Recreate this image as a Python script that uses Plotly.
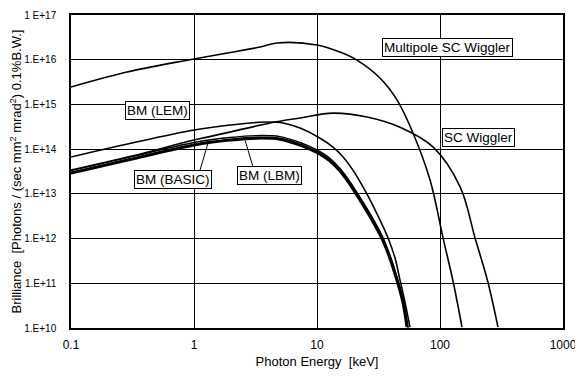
import plotly.graph_objects as go

# Photon energy [keV] and brilliance values
multipole_E = [0.1, 0.285, 1.0, 3.44, 4.73, 10.0, 15.4, 21.1, 32.5, 44.7, 60.3, 83, 106, 128, 151]
multipole_B = [2.45e15, 5.3e15, 1.04e16, 1.92e16, 2.37e16, 2.14e16, 1.48e16, 9.8e15, 3.9e15,
               1.26e15, 2.3e14, 2.04e13, 1.02e12, 1.07e11, 1.05e10]

scw_E = [0.1, 0.313, 1.0, 1.96, 4.15, 7.28, 13.5, 25.5, 47.3, 87.7, 146, 193, 245, 296]
scw_B = [3.4e13, 7.0e13, 1.6e14, 2.4e14, 3.84e14, 4.97e14, 6.4e14, 5.25e14, 3.1e14,
         1.12e14, 1.42e13, 1.02e12, 1.07e11, 1.05e10]

lem_E = [0.1, 0.313, 1.0, 1.96, 3.78, 5.3, 7.28, 10.2, 13.5, 16.3, 19.6, 23.2, 27, 32.5,
         37.8, 43.1, 47.3, 51.9, 57]
lem_B = [6.65e13, 1.37e14, 2.67e14, 3.46e14, 4.04e14, 3.84e14, 2.97e14, 1.87e14, 1.11e14,
         6.65e13, 3.4e13, 1.57e13, 7.3e12, 2.6e12, 1.03e12, 3.66e11, 1.18e11, 3.8e10, 1.05e10]

basic_E = [0.1, 0.313, 1.0, 1.96, 3.25, 5.0, 7.28, 8.77, 10.6, 12.8, 15.4, 18.5, 22.4, 27.5,
           33.7, 39.2, 44.7, 50, 55]
basic_B = [3.3e13, 6.8e13, 1.41e14, 1.82e14, 2.01e14, 1.91e14, 1.41e14, 1.14e14, 8.83e13,
           6.17e13, 3.68e13, 1.88e13, 8.3e12, 3.3e12, 1.17e12, 4.2e11, 1.35e11, 4.3e10, 1.0e10]

lbm_E = [0.1, 0.313, 1.0, 1.96, 3.25, 5.0, 7.28, 8.77, 10.6, 12.8, 15.4, 18.5, 22.4, 27.5,
         33.7, 39.2, 44.7, 50, 54]
lbm_B = [2.92e13, 6.0e13, 1.24e14, 1.60e14, 1.77e14, 1.68e14, 1.24e14, 1.0e14, 7.76e13,
         5.42e13, 3.24e13, 1.66e13, 7.3e12, 2.88e12, 1.03e12, 3.66e11, 1.18e11, 3.8e10, 1.05e10]

x_tickvals = [0.1, 1, 10, 100, 1000]
x_ticktext = ["0.1", "1", "10", "100", "1000"]
y_tickvals = [1e10, 1e11, 1e12, 1e13, 1e14, 1e15, 1e16, 1e17]
y_ticktext = ["1.E+10", "1.E+11", "1.E+12", "1.E+13", "1.E+14", "1.E+15", "1.E+16", "1 E+17"]

FONT = "Liberation Sans, Arial, sans-serif"

fig = go.Figure()
line_kw = dict(mode="lines", line_shape="spline", hoverinfo="skip", showlegend=False)
fig.add_trace(go.Scatter(x=multipole_E, y=multipole_B, line=dict(color="black", width=1.6), **line_kw))
fig.add_trace(go.Scatter(x=scw_E, y=scw_B, line=dict(color="black", width=1.6), **line_kw))
fig.add_trace(go.Scatter(x=lem_E, y=lem_B, line=dict(color="black", width=1.6), **line_kw))
fig.add_trace(go.Scatter(x=basic_E, y=basic_B, line=dict(color="black", width=1.4), **line_kw))
fig.add_trace(go.Scatter(x=lbm_E, y=lbm_B, line=dict(color="black", width=3.2), **line_kw))


def label(text, lx, ly):
    # annotation positions are in log10 units on log axes
    fig.add_annotation(x=lx, y=ly, xref="x", yref="y", text=text, showarrow=False,
                       font=dict(family=FONT, size=13.5, color="black"),
                       bordercolor="black", borderwidth=1, borderpad=1, bgcolor="white")


def pointer(e0, b0, e1, b1):
    # shapes on log axes take data values
    fig.add_shape(type="line", xref="x", yref="y", x0=e0, y0=b0, x1=e1, y1=b1,
                  line=dict(color="black", width=1))


pointer(1.12, 3.4e13, 1.30, 1.37e14)
pointer(3.02, 4.0e13, 2.6, 1.58e14)
label("BM (LEM)", -0.30, 14.875)
label("BM (BASIC)", -0.17, 13.33)
label("BM (LBM)", 0.61, 13.42)
label("Multipole SC Wiggler", 2.057, 16.284)
label("SC Wiggler", 2.317, 14.27)

fig.update_xaxes(type="log", range=[-1, 3], tickvals=x_tickvals, ticktext=x_ticktext,
                 showgrid=True, gridcolor="black", gridwidth=1,
                 showline=True, linecolor="black", linewidth=1.5, mirror=True,
                 ticks="", zeroline=False, automargin=False, ticklabelstandoff=5,
                 tickfont=dict(family=FONT, size=12, color="black"),
                 title=dict(text="Photon Energy  [keV]", font=dict(family=FONT, size=13, color="black"),
                            standoff=6))
fig.update_yaxes(type="log", range=[10, 17], tickvals=y_tickvals, ticktext=y_ticktext,
                 showgrid=True, gridcolor="black", gridwidth=1,
                 showline=True, linecolor="black", linewidth=1.5, mirror=True,
                 ticks="", zeroline=False, automargin=False, ticklabelstandoff=11,
                 tickfont=dict(family=FONT, size=10, color="black"),
                 title=dict(text="Brilliance  [Photons / (sec mm<sup>2</sup> mrad<sup>2</sup>) 0.1%B.W.]",
                            font=dict(family=FONT, size=13, color="black"), standoff=0))
# the page body has an 8px margin, so the figure is sized and offset to compensate
fig.update_layout(width=575, height=362, margin=dict(l=63, r=20, t=7, b=42),
                  plot_bgcolor="white", paper_bgcolor="white")

fig.write_html("out.html")
